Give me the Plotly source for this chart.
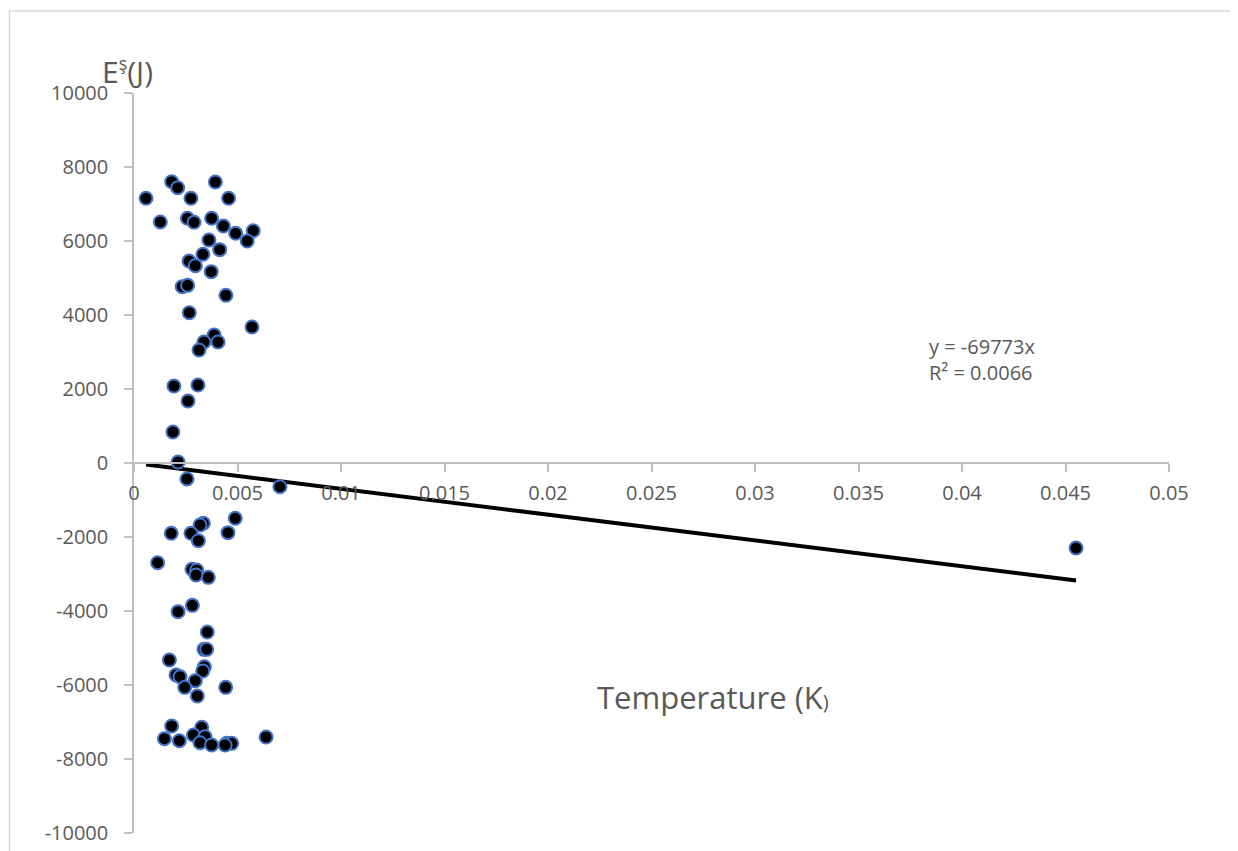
import plotly.graph_objects as go

# Data
temperature = [
    0.00058, 0.00182, 0.00211, 0.00393, 0.00275, 0.00457, 0.00127, 0.00258,
    0.00290, 0.00375, 0.00432, 0.00491, 0.00576, 0.00547, 0.00362, 0.00414,
    0.00333, 0.00266, 0.00296, 0.00373, 0.00233, 0.00259, 0.00444, 0.00267,
    0.00570, 0.00387, 0.00338, 0.00406, 0.00314, 0.00193, 0.00309, 0.00261,
    0.00188, 0.00213, 0.00256, 0.00705,
    0.00489, 0.00335, 0.00319, 0.00180, 0.00275, 0.00454, 0.00311, 0.00114,
    0.00280, 0.00303, 0.00300, 0.00359, 0.00282, 0.00213, 0.00354, 0.00338,
    0.00351, 0.00171, 0.00340, 0.00332, 0.00203, 0.00222, 0.00296, 0.00245,
    0.00306, 0.00443, 0.00182, 0.00327, 0.00147, 0.00219, 0.00287, 0.00343,
    0.00319, 0.00375, 0.00448, 0.00472, 0.00440, 0.00638, 0.04551,
]
energy = [
    7154, 7603, 7441, 7595, 7154, 7154, 6514, 6614,
    6505, 6614, 6405, 6208, 6279, 6000, 6027, 5766,
    5640, 5459, 5333, 5171, 4766, 4802, 4532, 4062,
    3676, 3459, 3270, 3270, 3054, 2081, 2108, 1676,
    838, 27, -432, -640,
    -1495, -1630, -1676, -1900, -1900, -1883, -2100, -2694,
    -2873, -2892, -3027, -3090, -3847, -4018, -4568, -5036,
    -5036, -5324, -5505, -5622, -5730, -5775, -5883, -6063,
    -6297, -6063, -7108, -7144, -7451, -7505, -7351, -7396,
    -7559, -7622, -7577, -7577, -7622, -7405, -2297,
]
trend_slope = -69773
r_squared = "0.0066"

x_tick_vals = [0, 0.005, 0.01, 0.015, 0.02, 0.025, 0.03, 0.035, 0.04, 0.045, 0.05]
x_tick_text = ["0", "0.005", "0.01", "0.015", "0.02", "0.025", "0.03", "0.035", "0.04", "0.045", "0.05"]
y_tick_vals = [-10000, -8000, -6000, -4000, -2000, 0, 2000, 4000, 6000, 8000, 10000]
y_tick_text = ["-10000", "-8000", "-6000", "-4000", "-2000", "0", "2000", "4000", "6000", "8000", "10000"]

W, H = 1238, 851
OFF = 8  # page body margin
# target plot area in screenshot pixels
PL, PR, PT, PB = 134, 1169, 93, 833
ML = PL - OFF
MT = PT - OFF
MR = W - (PR - OFF)
MB = H - (PB - OFF)
PW, PH = PR - PL, PB - PT

def px_x(p):
    return (p - PL) / PW

def px_y(p):
    return (PB - p) / PH

FONT = "Open Sans"
GRAY = "#595959"
AXIS = "#BFBFBF"

trend_x = [min(temperature), max(temperature)]
trend_y = [trend_slope * v for v in trend_x]

fig = go.Figure()
fig.add_trace(go.Scatter(
    x=trend_x, y=trend_y, mode="lines",
    line=dict(color="black", width=4), hoverinfo="skip", showlegend=False,
))
fig.add_trace(go.Scatter(
    x=temperature, y=energy, mode="markers",
    marker=dict(size=13, color="black", line=dict(color="#4472C4", width=2)),
    showlegend=False,
))

fig.update_layout(
    width=W, height=H,
    margin=dict(l=ML, r=MR, t=MT, b=MB),
    paper_bgcolor="white", plot_bgcolor="white",
    font=dict(family=FONT, color=GRAY, size=20),
    xaxis=dict(
        range=[0, 0.05], tickmode="array", tickvals=x_tick_vals, ticktext=x_tick_text,
        showgrid=False, zeroline=False, showline=True, linecolor=AXIS, linewidth=1.5,
        ticks="outside", ticklen=8, tickcolor=AXIS, tickwidth=1.5,
        anchor="free", position=0.5, ticklabelstandoff=4,
        tickfont=dict(family=FONT, size=20, color=GRAY),
    ),
    yaxis=dict(
        range=[-10000, 10000], tickmode="array", tickvals=y_tick_vals, ticktext=y_tick_text,
        showgrid=False, zeroline=False, showline=True, linecolor=AXIS, linewidth=1.5,
        ticks="outside", ticklen=8, tickcolor=AXIS, tickwidth=1.5,
        ticklabelstandoff=12,
        tickfont=dict(family=FONT, size=20, color=GRAY),
    ),
    shapes=[dict(
        type="rect", xref="paper", yref="paper",
        x0=px_x(9.5), x1=px_x(1260), y0=px_y(880), y1=px_y(11),
        line=dict(color="#D9D9D9", width=1.5), fillcolor="rgba(0,0,0,0)", layer="below",
    )],
    annotations=[
        dict(
            text="E<sup><span style='font-size:18px'>ş</span></sup>(J)", xref="paper", yref="paper",
            x=px_x(127), y=px_y(71), xanchor="center", yanchor="middle",
            showarrow=False, font=dict(family=FONT, size=30, color=GRAY),
        ),
        dict(
            text="Temperature (K<span style='font-size:20px'>)</span>", xref="paper", yref="paper",
            x=px_x(595), y=px_y(697), xanchor="left", yanchor="middle",
            showarrow=False, font=dict(family=FONT, size=31, color=GRAY),
        ),
        dict(
            text=f"y = {trend_slope}x<br>R² = {r_squared}", xref="paper", yref="paper",
            x=px_x(927), y=px_y(359), xanchor="left", yanchor="middle", align="left",
            showarrow=False, font=dict(family=FONT, size=20, color=GRAY),
        ),
    ],
)

fig.write_html("out.html")
